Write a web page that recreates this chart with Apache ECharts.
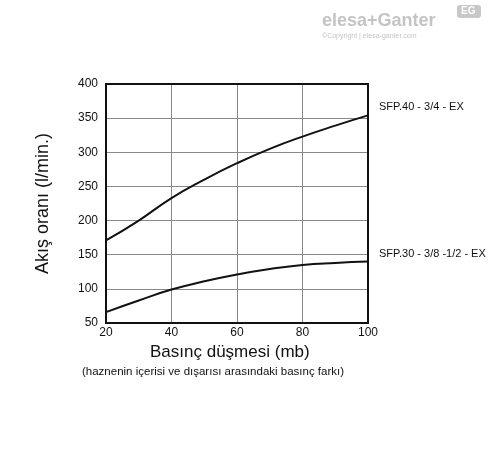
<!DOCTYPE html>
<html>
<head>
<meta charset="UTF-8">
<script src="https://cdn.jsdelivr.net/npm/echarts@6/dist/echarts.min.js"></script>
</head>
<body style="margin:0;background:#fff">
<div id="box" style="width:488px;height:454px;"></div>
<script>
var pressure = [20, 30, 40, 50, 60, 70, 80, 90, 100];
var sfp40 = [171, 200, 233, 260, 284, 305, 323, 339, 354];
var sfp30 = [66, 83, 99, 111, 121, 129, 135, 138, 140];
var names = ['SFP.40 - 3/4 - EX', 'SFP.30 - 3/8 -1/2 - EX'];

function pairs(v) { return pressure.map(function (x, i) { return [x, v[i]]; }); }
function line(name, v) {
  return {
    name: name, type: 'line', smooth: 0.5, symbol: 'none', data: pairs(v),
    lineStyle: { color: '#111', width: 2 },
    endLabel: { show: true, formatter: name, color: '#111', fontSize: 11, fontFamily: 'Liberation Sans', offset: [3, -8] }
  };
}
var chart = echarts.init(document.getElementById('box'));
chart.setOption({
  animation: false,
  graphic: [
    { type: 'text', left: 322, top: 12, style: { text: 'elesa+Ganter', fontSize: 18, fontWeight: 'bold', fill: '#c4c4c4', fontFamily: 'Liberation Sans' } },
    { type: 'text', left: 322, top: 33, style: { text: '©Copyright | elesa-ganter.com', fontSize: 7, fill: '#c4c4c4' } },
    { type: 'rect', left: 457, top: 5, shape: { width: 24, height: 13, r: 3 }, style: { fill: '#c8c8c8' } },
    { type: 'text', left: 461, top: 6, style: { text: 'EG', fontSize: 10, fontWeight: 'bold', fill: '#fff' } },
    { type: 'text', left: 150, top: 344, style: { text: 'Basınç düşmesi (mb)', fontSize: 17, fill: '#111', fontFamily: 'Liberation Sans' } },
    { type: 'text', left: 82, top: 366, style: { text: '(haznenin içerisi ve dışarısı arasındaki basınç farkı)', fontSize: 11.5, fill: '#111', fontFamily: 'Liberation Sans' } }
  ],
  grid: { left: 106, right: 120, top: 84, bottom: 131 },
  xAxis: {
    type: 'value', min: 20, max: 100, interval: 20,
    axisLine: { lineStyle: { color: '#111', width: 2 } }, axisTick: { show: false },
    axisLabel: { color: '#111', fontSize: 12, margin: 4, fontFamily: 'Liberation Sans' },
    splitLine: { lineStyle: { color: '#888', width: 1 } }
  },
  yAxis: {
    type: 'value', min: 50, max: 400, interval: 50,
    name: 'Akış oranı (l/min.)', nameLocation: 'middle', nameGap: 54,
    nameTextStyle: { fontSize: 18, color: '#111', fontFamily: 'Liberation Sans' },
    axisLine: { show: true, lineStyle: { color: '#111', width: 2 } }, axisTick: { show: false },
    axisLabel: { color: '#111', fontSize: 12, margin: 8, fontFamily: 'Liberation Sans' },
    splitLine: { lineStyle: { color: '#888', width: 1 } }
  },
  series: [
    line(names[0], sfp40),
    line(names[1], sfp30),
    { type: 'line', data: [], markArea: { silent: true, itemStyle: { color: 'transparent', borderColor: '#111', borderWidth: 2 }, data: [[{ coord: [20, 50] }, { coord: [100, 400] }]] } }
  ]
});
</script>
</body>
</html>
